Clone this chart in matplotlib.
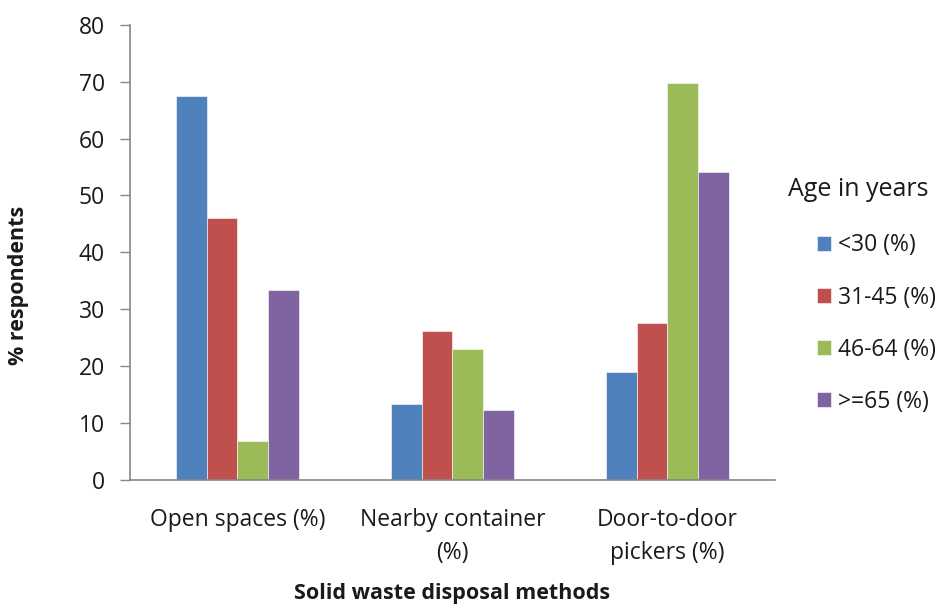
import matplotlib
matplotlib.use("Agg")
import matplotlib.pyplot as plt
import numpy as np

plt.rcParams['font.family'] = ['Open Sans', 'DejaVu Sans']

categories = ["Open spaces (%)", "Nearby container\n(%)", "Door-to-door\npickers (%)"]
series_names = ["<30 (%)", "31-45 (%)", "46-64 (%)", ">=65 (%)"]
under_30 = [67.5, 13.3, 19.0]
age_31_45 = [46.0, 26.2, 27.6]
age_46_64 = [6.8, 23.1, 69.7]
age_65_plus = [33.3, 12.3, 54.2]
colors = ["#4F81BD", "#C0504D", "#9BBB59", "#8064A2"]
yticks = [0, 10, 20, 30, 40, 50, 60, 70, 80]

W, H = 945, 608
fig = plt.figure(figsize=(W / 100, H / 100), dpi=100)
ax = fig.add_axes([130 / W, 1 - 480 / H, (775 - 130) / W, (480 - 24.7) / H])

x = np.arange(len(categories))
width = 0.143
values = [under_30, age_31_45, age_46_64, age_65_plus]
for i, (name, vals, c) in enumerate(zip(series_names, values, colors)):
    ax.bar(x + (i - 1.5) * width, vals, width, color=c, label=name,
           edgecolor="white", linewidth=0.4)

txt = "#1a1a1a"
ax.set_xlim(-0.5, len(categories) - 0.5)
ax.set_ylim(0, 80)
ax.set_yticks(yticks)
ax.set_xticks(x)
ax.set_xticklabels(categories, fontsize=16.5, color=txt, linespacing=1.5)
ax.tick_params(axis="x", length=0, pad=20)
ax.tick_params(axis="y", length=7, width=1, color="#868686", labelsize=16.5,
               labelcolor=txt, pad=11)
for s in ["top", "right"]:
    ax.spines[s].set_visible(False)
for s in ["left", "bottom"]:
    ax.spines[s].set_color("#868686")
    ax.spines[s].set_linewidth(1.2)

fig.text(19 / W, 1 - 285 / H, "% respondents", rotation=90, ha="center",
         va="center", fontsize=15.5, fontweight="bold", color=txt)
fig.text(452 / W, 1 - 594 / H, "Solid waste disposal methods", ha="center",
         va="center", fontsize=15.5, fontweight="bold", color=txt)

fig.text(788 / W, 1 - 190 / H, "Age in years", ha="left", va="center",
         fontsize=18, color=txt)
leg = ax.legend(loc="upper left", bbox_to_anchor=(806 / W, 1 - 222 / H),
                bbox_transform=fig.transFigure, frameon=False, fontsize=16.5,
                handlelength=0.6, handleheight=0.6, handletextpad=0.3,
                labelspacing=1.225, borderpad=0)
for t in leg.get_texts():
    t.set_color(txt)

fig.savefig("out.png", dpi=100)
